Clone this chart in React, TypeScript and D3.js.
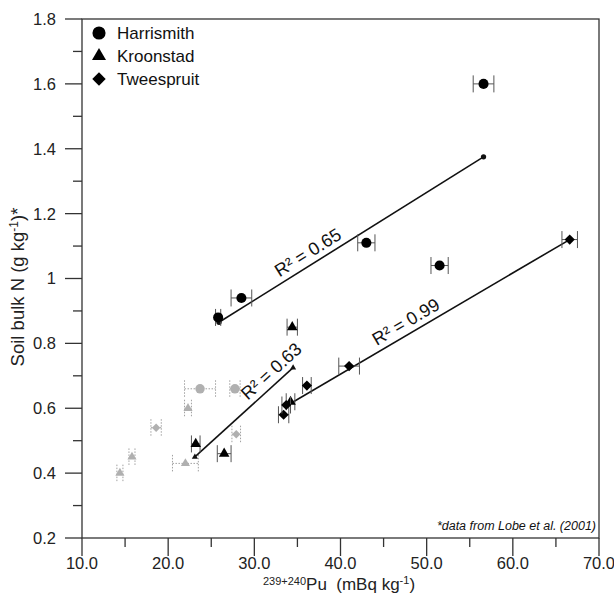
import React from 'react';
import * as d3 from 'd3';

// Pu inventory (x), soil bulk N (y), horizontal error (e)
const harrismith = [
  { x: 25.8, y: 0.88, e: 0.3 },
  { x: 28.5, y: 0.94, e: 1.2 },
  { x: 43.0, y: 1.11, e: 1.0 },
  { x: 51.5, y: 1.04, e: 1.0 },
  { x: 56.6, y: 1.6, e: 1.2 },
];
const kroonstad = [
  { x: 23.2, y: 0.49, e: 0.5 },
  { x: 26.5, y: 0.46, e: 0.8 },
  { x: 34.4, y: 0.85, e: 0.6 },
  { x: 34.2, y: 0.62, e: 0.5 },
];
const tweespruit = [
  { x: 33.4, y: 0.58, e: 0.6 },
  { x: 33.7, y: 0.61, e: 0.5 },
  { x: 36.1, y: 0.67, e: 0.5 },
  { x: 41.0, y: 0.73, e: 1.2 },
  { x: 66.6, y: 1.12, e: 0.9 },
];
// Lobe et al. (2001) values, drawn in grey
const lobe = [
  { x: 23.7, y: 0.66, e: 1.8, s: 'circle' },
  { x: 27.75, y: 0.66, e: 0.6, s: 'circle' },
  { x: 22.3, y: 0.6, e: 0.4, s: 'triangle' },
  { x: 18.6, y: 0.54, e: 0.6, s: 'diamond' },
  { x: 27.9, y: 0.52, e: 0.5, s: 'diamond' },
  { x: 15.8, y: 0.45, e: 0.35, s: 'triangle' },
  { x: 22.0, y: 0.43, e: 1.5, s: 'triangle' },
  { x: 14.4, y: 0.4, e: 0.35, s: 'triangle' },
];
// regression lines: endpoints, label and label position along the line
const fits = [
  { x1: 25.9, y1: 0.865, x2: 56.6, y2: 1.375, s: 'circle', label: '0.65', t: 0.36 },
  { x1: 23.1, y1: 0.45, x2: 34.5, y2: 0.725, s: 'triangle', label: '0.63', t: 0.86 },
  { x1: 33.9, y1: 0.61, x2: 66.6, y2: 1.12, s: 'diamond', label: '0.99', t: 0.44 },
];
const legendNames = ['Harrismith', 'Kroonstad', 'Tweespruit'];
const legendShapes = ['circle', 'triangle', 'diamond'];
const xTicks = [10, 20, 30, 40, 50, 60, 70];
const xMinor = [15, 25, 35, 45, 55, 65];
const yTicks = [0.2, 0.4, 0.6, 0.8, 1, 1.2, 1.4, 1.6, 1.8];
const yMinor = [0.3, 0.5, 0.7, 0.9, 1.1, 1.3, 1.5, 1.7];

const W = 614, H = 597;
const L = 82, R = 599, T = 19, B = 538;
const font = '"Liberation Sans", Arial, sans-serif';

const x = d3.scaleLinear().domain([10, 70]).range([L, R]);
const y = d3.scaleLinear().domain([0.2, 1.8]).range([B, T]);

const symPath = (shape: string, size: number) => {
  if (shape === 'circle') return d3.symbol(d3.symbolCircle, size)()!;
  if (shape === 'triangle') return d3.symbol(d3.symbolTriangle, size)()!;
  return d3.symbol(d3.symbolSquare, size)()!;
};
const Marker = ({ shape, cx, cy, size, fill }: any) => (
  <path
    d={symPath(shape, size)}
    transform={`translate(${cx},${cy})${shape === 'diamond' ? ' rotate(45)' : ''}`}
    fill={fill}
  />
);

const sizes: any = { circle: 80, triangle: 48, diamond: 52 };

const ErrBar = ({ d, grey }: any) => {
  const x0 = x(d.x - d.e), x1 = x(d.x + d.e), cy = y(d.y);
  const st = grey
    ? { stroke: '#a0a0a0', strokeWidth: 1, strokeDasharray: '1.5,1.5' }
    : { stroke: '#555', strokeWidth: 1 };
  return (
    <g {...st}>
      <line x1={x0} x2={x1} y1={cy} y2={cy} />
      <line x1={x0} x2={x0} y1={cy - 8.5} y2={cy + 8.5} />
      <line x1={x1} x2={x1} y1={cy - 8.5} y2={cy + 8.5} />
    </g>
  );
};

export default function App() {
  const series = [
    { data: harrismith, shape: 'circle' },
    { data: kroonstad, shape: 'triangle' },
    { data: tweespruit, shape: 'diamond' },
  ];
  return (
    <svg width={W} height={H} style={{ position: 'absolute', left: 0, top: 0, background: '#fff' }} fontFamily={font}>
      {/* frame */}
      <rect x={L} y={T} width={R - L} height={B - T} fill="none" stroke="#333" strokeWidth={1.3} />
      {/* y ticks */}
      {yTicks.map((v) => (
        <g key={'y' + v}>
          <line x1={L - 17} x2={L} y1={y(v)} y2={y(v)} stroke="#333" strokeWidth={1.3} />
          <text x={L - 26} y={y(v)} dy="0.36em" textAnchor="end" fontSize={16.5} fill="#222">{String(v)}</text>
        </g>
      ))}
      {yMinor.map((v) => (
        <line key={'ym' + v} x1={L - 9} x2={L} y1={y(v)} y2={y(v)} stroke="#333" strokeWidth={1.3} />
      ))}
      {/* x ticks */}
      {xTicks.map((v) => (
        <g key={'x' + v}>
          <line x1={x(v)} x2={x(v)} y1={B} y2={B + 18} stroke="#333" strokeWidth={1.3} />
          <text x={x(v)} y={B + 31} textAnchor="middle" fontSize={16.5} fill="#222">{v.toFixed(1)}</text>
        </g>
      ))}
      {xMinor.map((v) => (
        <line key={'xm' + v} x1={x(v)} x2={x(v)} y1={B} y2={B + 9} stroke="#333" strokeWidth={1.3} />
      ))}
      {/* axis titles */}
      <text x={339} y={590} textAnchor="middle" fontSize={17} fill="#222">
        <tspan fontSize={11} dy={-5}>239+240</tspan>
        <tspan dy={5}>{'Pu\u00A0\u00A0(mBq kg'}</tspan>
        <tspan fontSize={11} dy={-6}>-1</tspan>
        <tspan dy={6}>)</tspan>
      </text>
      <text transform="translate(24,287) rotate(-90)" textAnchor="middle" fontSize={18.5} fill="#222">
        <tspan>Soil bulk N (g kg</tspan>
        <tspan fontSize={12} dy={-6}>-1</tspan>
        <tspan dy={6}>)*</tspan>
      </text>
      {/* grey literature points */}
      {lobe.map((d, i) => (
        <g key={'l' + i}>
          <ErrBar d={d} grey />
          <Marker shape={d.s} cx={x(d.x)} cy={y(d.y)} size={d.s === 'circle' ? 70 : 36} fill="#b0b0b0" />
        </g>
      ))}
      {/* regression lines */}
      {fits.map((f, i) => {
        const px1 = x(f.x1), py1 = y(f.y1), px2 = x(f.x2), py2 = y(f.y2);
        const ang = (Math.atan2(py2 - py1, px2 - px1) * 180) / Math.PI;
        const lx = px1 + (px2 - px1) * f.t, ly = py1 + (py2 - py1) * f.t;
        return (
          <g key={'f' + i}>
            <line x1={px1} y1={py1} x2={px2} y2={py2} stroke="#111" strokeWidth={1.6} />
            <Marker shape={f.s} cx={px1} cy={py1} size={f.s === 'circle' ? 22 : 16} fill="#111" />
            <Marker shape={f.s} cx={px2} cy={py2} size={f.s === 'circle' ? 22 : 16} fill="#111" />
            <text transform={`translate(${lx},${ly}) rotate(${ang})`} dy={-6} textAnchor="middle" fontSize={18} fill="#111">
              {`R\u00B2 = ${f.label}`}
            </text>
          </g>
        );
      })}
      {/* site data */}
      {series.map((s) =>
        s.data.map((d, i) => (
          <g key={s.shape + i}>
            <ErrBar d={d} />
            <Marker shape={s.shape} cx={x(d.x)} cy={y(d.y)} size={sizes[s.shape]} fill="#000" />
          </g>
        ))
      )}
      {/* legend */}
      {legendNames.map((n, i) => (
        <g key={n} transform={`translate(99,${33 + i * 23})`}>
          <Marker shape={legendShapes[i]} cx={0} cy={0} size={legendShapes[i] === 'circle' ? 135 : legendShapes[i] === 'triangle' ? 85 : 90} fill="#000" />
          <text x={18} dy="0.36em" fontSize={17} fill="#111">{n}</text>
        </g>
      ))}
      <text x={R - 3} y={B - 8} textAnchor="end" fontSize={12.5} fontStyle="italic" fill="#111">
        *data from Lobe et al. (2001)
      </text>
    </svg>
  );
}
